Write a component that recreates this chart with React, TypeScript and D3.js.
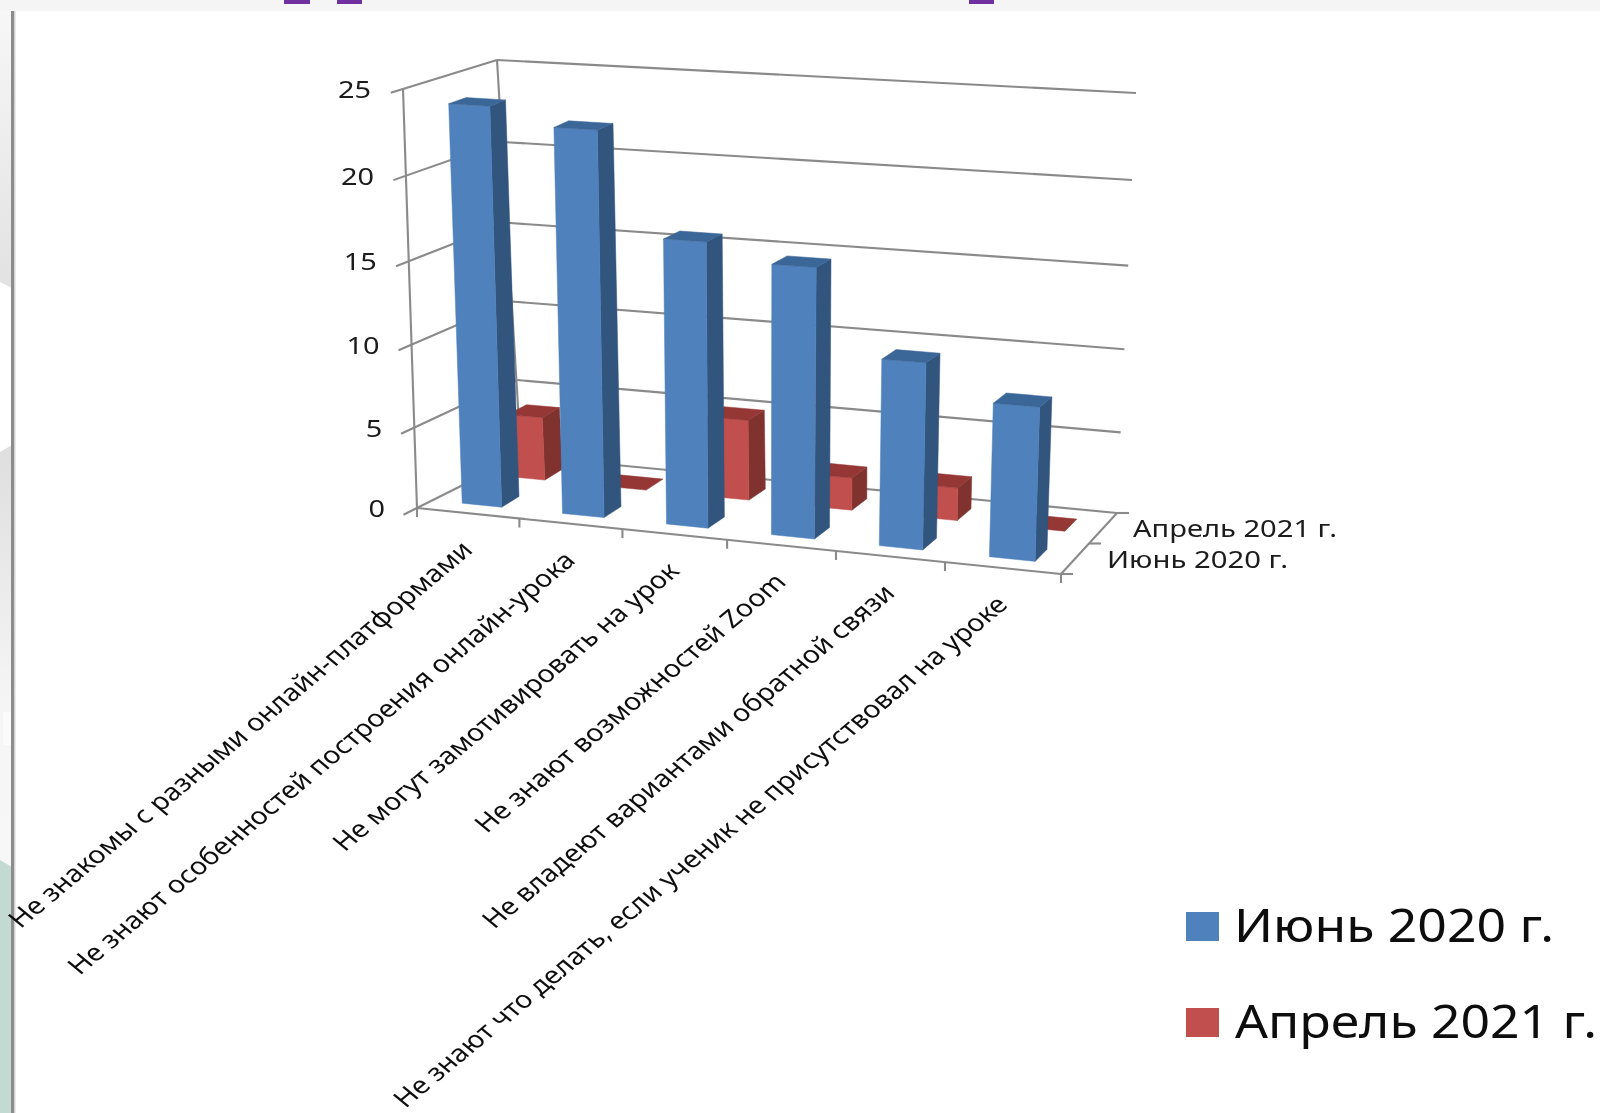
import React from "react";
import * as d3 from "d3";

const categories = [
  "Не знакомы с разными онлайн-платформами",
  "Не знают особенностей построения онлайн-урока",
  "Не могут замотивировать на урок",
  "Не знают возможностей Zoom",
  "Не владеют вариантами обратной связи",
  "Не знают что делать, если ученик не присутствовал на уроке",
];
const seriesNames = ["Июнь 2020 г.", "Апрель 2021 г."];
const june2020 = [24, 23, 17, 16, 11, 9];
const april2021 = [4, 0, 5, 2, 2, 0];
const valueTicks = [0, 5, 10, 15, 20, 25];

const W = 1600;
const H = 1113;
const FONT = "'Noto Sans', 'Open Sans', sans-serif";
const GRID = "#8a8a8a";

type Pt = [number, number];
// corners of the 3D box as seen on screen
const FLB: Pt = [417, 508];
const FLT: Pt = [403, 89];
const BLB: Pt = [521, 456];
const BLT: Pt = [497, 60];
const FRB: Pt = [1061, 574];
const FRT: Pt = [1075, 129];
const BRB: Pt = [1117, 513];
const BRT: Pt = [1136, 93];

// perspective spacing of the categories along the front and back of the floor
const catDomain = [0, 1, 2, 3, 4, 5, 6];
const catFront = d3.scaleLinear().domain(catDomain).range([0, 0.159, 0.319, 0.4815, 0.6506, 0.8199, 1]);
const catBack = d3.scaleLinear().domain(catDomain).range([0, 0.13, 0.315, 0.48, 0.65, 0.825, 1]);
const depthScale = d3.scaleLinear().domain([0, 2]).range([0, 1]);
// perspective spacing of the value axis
const valueScale = d3.scaleLinear().domain(valueTicks).range([0, 0.192, 0.39, 0.589, 0.793, 1]);

const mix = (a: Pt, b: Pt, k: number): Pt => [a[0] + (b[0] - a[0]) * k, a[1] + (b[1] - a[1]) * k];

function P(c: number, s: number, v: number): Pt {
  const tf = catFront(c);
  const tb = catBack(c);
  const d = depthScale(s);
  const h = valueScale(v);
  const bottom = mix(mix(FLB, FRB, tf), mix(BLB, BRB, tb), d);
  const top = mix(mix(FLT, FRT, tf), mix(BLT, BRT, tb), d);
  return mix(bottom, top, h);
}

const poly = (pts: Pt[]) => pts.map((p) => p.map((n) => n.toFixed(1)).join(",")).join(" ");

function Bar({ c, s, v, front, side, top }: { c: number; s: number; v: number; front: string; side: string; top: string }) {
  const c0 = c + 0.3;
  const c1 = c + 0.7;
  const s0 = s + 0.3;
  const s1 = s + 0.7;
  return (
    <g>
      {v > 0 && <polygon points={poly([P(c1, s0, 0), P(c1, s1, 0), P(c1, s1, v), P(c1, s0, v)])} fill={side} stroke={side} strokeWidth={0.5} />}
      {v > 0 && <polygon points={poly([P(c0, s0, 0), P(c1, s0, 0), P(c1, s0, v), P(c0, s0, v)])} fill={front} stroke={front} strokeWidth={0.5} />}
      <polygon points={poly([P(c0, s0, v), P(c1, s0, v), P(c1, s1, v), P(c0, s1, v)])} fill={top} stroke={top} strokeWidth={0.5} />
    </g>
  );
}

function Seg({ a, b, w = 2.1 }: { a: Pt; b: Pt; w?: number }) {
  return <line x1={a[0]} y1={a[1]} x2={b[0]} y2={b[1]} stroke={GRID} strokeWidth={w} />;
}

export default function App() {
  return (
    <svg
      width={W}
      height={H}
      viewBox={`0 0 ${W} ${H}`}
      style={{ position: "absolute", left: 0, top: 0, display: "block", background: "#fff" }}
    >
      <defs>
        <linearGradient id="g1" x1="0" y1="0" x2="0" y2="1">
          <stop offset="0" stopColor="#f7f7f7" />
          <stop offset="1" stopColor="#e2e2e2" />
        </linearGradient>
        <linearGradient id="g2" x1="0" y1="0" x2="0" y2="1">
          <stop offset="0" stopColor="#dedede" />
          <stop offset="0.6" stopColor="#f5f5f5" />
          <stop offset="1" stopColor="#f7f7f7" />
        </linearGradient>
        <filter id="soft" x="0" y="0" width="1" height="1" filterUnits="objectBoundingBox">
          <feGaussianBlur stdDeviation="0.55" />
        </filter>
      </defs>
      {/* slide background fragments */}
      <rect x={0} y={0} width={W} height={11} fill="#f5f5f5" />
      {[[284, 26], [337, 25], [969, 25]].map(([x, w]) => (
        <rect key={x} x={x} y={0} width={w} height={4} fill="#7030a0" />
      ))}
      <polygon points="0,11 12,11 12,288 0,282" fill="url(#g1)" />
      <polygon points="0,452 12,445 12,867 0,860" fill="url(#g2)" />
      <rect x={3} y={712} width={9} height={33} fill="#fbfbfb" />
      <polygon points="0,860 12,867 12,1113 0,1113" fill="#c3dad2" />
      <rect x={11} y={11} width={3} height={H - 11} fill="#8c8c8c" />
      <rect x={14} y={11} width={1.5} height={H - 11} fill="#d4d4d4" />

      <g filter="url(#soft)">
        <rect x={16} y={12} width={W - 16} height={H - 12} fill="#fff" />
        {/* walls */}
        {valueTicks.map((v) => {
          const fl = P(0, 0, v);
          const bl = P(0, 2, v);
          const br = P(6, 2, v);
          const tick = mix(fl, bl, -0.13);
          return (
            <g key={v}>
              <Seg a={tick} b={bl} />
              <Seg a={bl} b={br} />
              <text
                x={fl[0] - 32}
                y={fl[1] + 9}
                textAnchor="end"
                fontFamily={FONT}
                fontSize={23}
                fill="#1a1a1a"
                textLength={String(v).length * 16.5}
                lengthAdjust="spacingAndGlyphs"
              >
                {v}
              </text>
            </g>
          );
        })}
        <Seg a={P(0, 0, 25)} b={P(0, 0, 0)} />
        <Seg a={P(0, 2, 25)} b={P(0, 2, 0)} />
        <Seg a={P(0, 0, 0)} b={P(6, 0, 0)} />
        <Seg a={P(6, 0, 0)} b={P(6, 2, 0)} />
        {d3.range(0, 7).map((c) => {
          const p = P(c, 0, 0);
          return <Seg key={c} a={p} b={[p[0], p[1] + 9]} />;
        })}
        {[0, 1, 2].map((s) => {
          const p = P(6, s, 0);
          return <Seg key={s} a={p} b={[p[0] + 12, p[1]]} />;
        })}

        {/* bars */}
        {april2021.map((v, i) => (
          <Bar key={i} c={i} s={1} v={v} front="#c0504d" side="#7f302e" top="#953735" />
        ))}
        {june2020.map((v, i) => (
          <Bar key={i} c={i} s={0} v={v} front="#4f81bd" side="#31547e" top="#3b6698" />
        ))}

        {/* series labels on the depth axis */}
        {[april2021, june2020].map((_, k) => {
          const s = 1 - k;
          const p = P(6, s + 0.5, 0);
          return (
            <text
              key={k}
              x={s === 1 ? p[0] + 30 : p[0] + 32}
              y={p[1] + 9}
              fontFamily={FONT}
              fontSize={23}
              fill="#1a1a1a"
              textLength={s === 1 ? 204 : 181}
              lengthAdjust="spacingAndGlyphs"
            >
              {seriesNames[s]}
            </text>
          );
        })}

        {/* category labels */}
        {categories.map((name, i) => {
          const p = P(i + 0.5, 0, 0);
          return (
            <text
              key={i}
              transform={`translate(${p[0] + 6},${p[1] + 38}) scale(1.2,1) rotate(-45)`}
              textAnchor="end"
              fontFamily={FONT}
              fontSize={24}
              fill="#111"
            >
              {name}
            </text>
          );
        })}

        {/* legend */}
        {seriesNames.map((name, k) => {
          const y = d3.scaleLinear().domain([0, 1]).range([912, 1008])(k);
          return (
            <g key={name}>
              <rect x={1186} y={y} width={33} height={29} fill={k === 0 ? "#4f81bd" : "#c0504d"} />
              <text
                x={k === 0 ? 1234 : 1235}
                y={y + 30}
                fontFamily={FONT}
                fontSize={46}
                fill="#0a0a0a"
                textLength={k === 0 ? 320 : 362}
                lengthAdjust="spacingAndGlyphs"
              >
                {name}
              </text>
            </g>
          );
        })}
      </g>
    </svg>
  );
}
